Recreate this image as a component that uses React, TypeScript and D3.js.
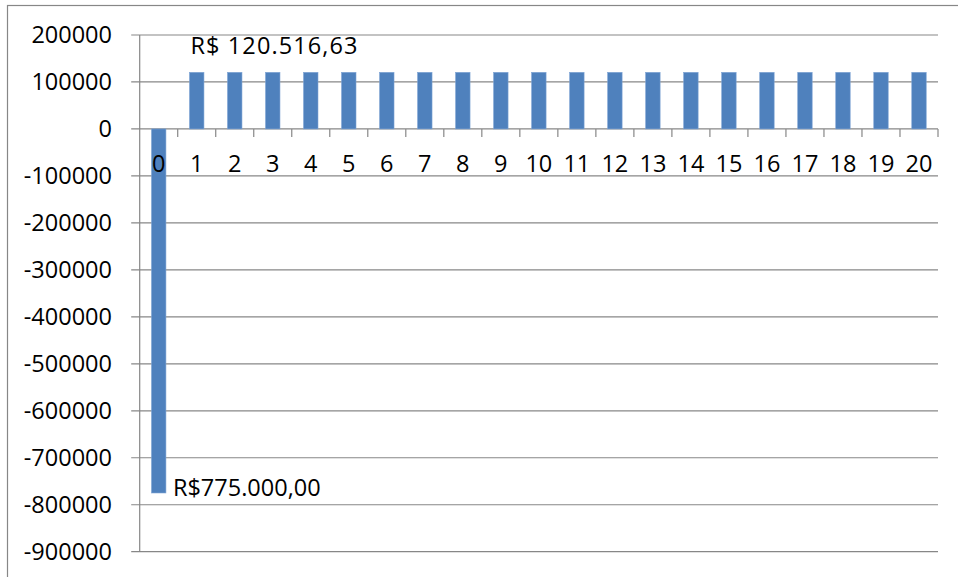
import React from "react";
import * as d3 from "d3";

const categories: string[] = Array.from({ length: 21 }, (_, i) => String(i));
const values: number[] = [
  -775000, 120516.63, 120516.63, 120516.63, 120516.63, 120516.63, 120516.63,
  120516.63, 120516.63, 120516.63, 120516.63, 120516.63, 120516.63, 120516.63,
  120516.63, 120516.63, 120516.63, 120516.63, 120516.63, 120516.63, 120516.63,
];
const yTicks: number[] = [200000, 100000, 0, -100000, -200000, -300000, -400000, -500000, -600000, -700000, -800000, -900000];
const labelPositive = "R$ 120.516,63";
const labelNegative = "R$775.000,00";

const W = 958;
const H = 577;
const left = 139.7;
const right = 938;
const top = 35;
const bottom = 551.7;
const FONT = "'Open Sans', 'Liberation Sans', sans-serif";
const FS = 23.5;
const GRID = "#878787";
const BAR = "#4F81BD";

export default function App() {
  const y = d3.scaleLinear().domain([-900000, 200000]).range([bottom, top]);
  const xCat = d3.scaleBand<string>().domain(categories).range([left, right]).padding(0);
  const xBar = d3
    .scaleBand<string>()
    .domain(categories)
    .range([left, right])
    .paddingInner(0.62)
    .paddingOuter(0.31);
  const y0 = y(0);
  const step = xCat.step();

  return (
    <div style={{ position: "absolute", left: 0, top: 0 }}>
      <svg width={W} height={H} style={{ display: "block", fontFamily: FONT }}>
        <rect x={0} y={0} width={W} height={H} fill="#fff" />
        <rect x={7.5} y={5.5} width={W + 10} height={H + 10} fill="none" stroke={GRID} strokeWidth={1.2} />
        {/* gridlines */}
        {yTicks.map((t) => (
          <line key={"g" + t} x1={left - 8.5} x2={right} y1={y(t)} y2={y(t)} stroke={GRID} strokeWidth={1.2} />
        ))}
        {/* y axis */}
        <line x1={left} x2={left} y1={top} y2={bottom} stroke={GRID} strokeWidth={1.2} />
        {/* x axis ticks */}
        {categories.map((c) => (
          <line
            key={"xt" + c}
            x1={(xCat(c) as number) + step}
            x2={(xCat(c) as number) + step}
            y1={y0}
            y2={y0 + 8}
            stroke={GRID}
            strokeWidth={1.2}
          />
        ))}
        {/* y tick labels */}
        {yTicks.map((t) => (
          <text
            key={"yl" + t}
            x={112}
            y={y(t)}
            dy="0.36em"
            textAnchor="end"
            fontSize={FS}
            fill="#000"
          >
            {String(t)}
          </text>
        ))}
        {/* bars */}
        {values.map((v, i) => {
          const c = categories[i];
          const yy = Math.min(y(v), y0);
          const h = Math.abs(y(v) - y0);
          return (
            <rect
              key={"b" + c}
              x={xBar(c)}
              y={yy}
              width={xBar.bandwidth()}
              height={h}
              fill={BAR}
              stroke="#7da3d4"
              strokeWidth={0.6}
            />
          );
        })}
        {/* x labels */}
        {categories.map((c) => (
          <text
            key={"xl" + c}
            x={(xCat(c) as number) + step / 2}
            y={171.5}
            textAnchor="middle"
            fontSize={FS}
            fill="#000"
          >
            {c}
          </text>
        ))}
        {/* data labels */}
        <text x={(xBar("1") as number) + 1} y={53.5} fontSize={FS} letterSpacing={1.1} fill="#000">
          {labelPositive}
        </text>
        <text
          x={(xBar("0") as number) + xBar.bandwidth() + 7}
          y={y(values[0]) + 3}
          fontSize={FS}
          fill="#000"
        >
          {labelNegative}
        </text>
      </svg>
    </div>
  );
}
